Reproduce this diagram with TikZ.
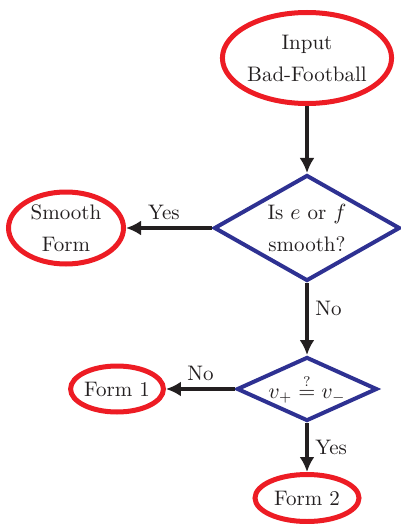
\documentclass[tikz,border=0pt]{standalone}
\usetikzlibrary{shapes.geometric,arrows.meta}
\definecolor{ovalred}{RGB}{237,28,36}
\definecolor{testblue}{RGB}{46,49,146}
\definecolor{linkblack}{RGB}{35,31,32}
\tikzset{
  term/.style={draw=ovalred, ellipse, line width=2.5pt, inner sep=0pt, align=center, text=linkblack},
  test/.style={draw=testblue, diamond, line width=2pt, inner sep=0pt, align=center, text=linkblack},
  link/.style={->, line width=1.6pt, draw=linkblack, text=linkblack}
}
\begin{document}
\begin{tikzpicture}[x=0.5pt, y=-0.5pt, font=\fontsize{10.5}{16}\selectfont,
  >={Latex[length=7.5pt,width=7.5pt]}]
  \useasboundingbox (0,0) rectangle (401,524);
  \node[term, minimum width=74pt, minimum height=45.5pt] (input) at (307,58) {Input\\Bad-Football};
  \node[test, aspect=1.75, minimum width=93pt, minimum height=53pt] (smooth) at (307,228) {Is $e$ or $f$\\smooth?};
  \node[term, minimum width=57.5pt, minimum height=36pt] (smoothform) at (66,228) {Smooth\\Form};
  \node[test, aspect=2.2, minimum width=70pt, minimum height=32pt] (equal) at (307,389) {$v_+ \stackrel{?}{=} v_-$};
  \node[term, minimum width=44pt, minimum height=23pt] (form1) at (117,389) {Form 1};
  \node[term, minimum width=52pt, minimum height=23.5pt] (form2) at (307,498) {Form 2};
  \draw[link] (input) -- (smooth);
  \draw[link] (smooth) -- node[pos=0.56, above]{Yes} (smoothform);
  \draw[link] (smooth) -- node[pos=0.35, right]{No} (equal);
  \draw[link] (equal) -- node[midway, above]{No} (form1);
  \draw[link] (equal) -- node[midway, right]{Yes} (form2);
\end{tikzpicture}
\end{document}
